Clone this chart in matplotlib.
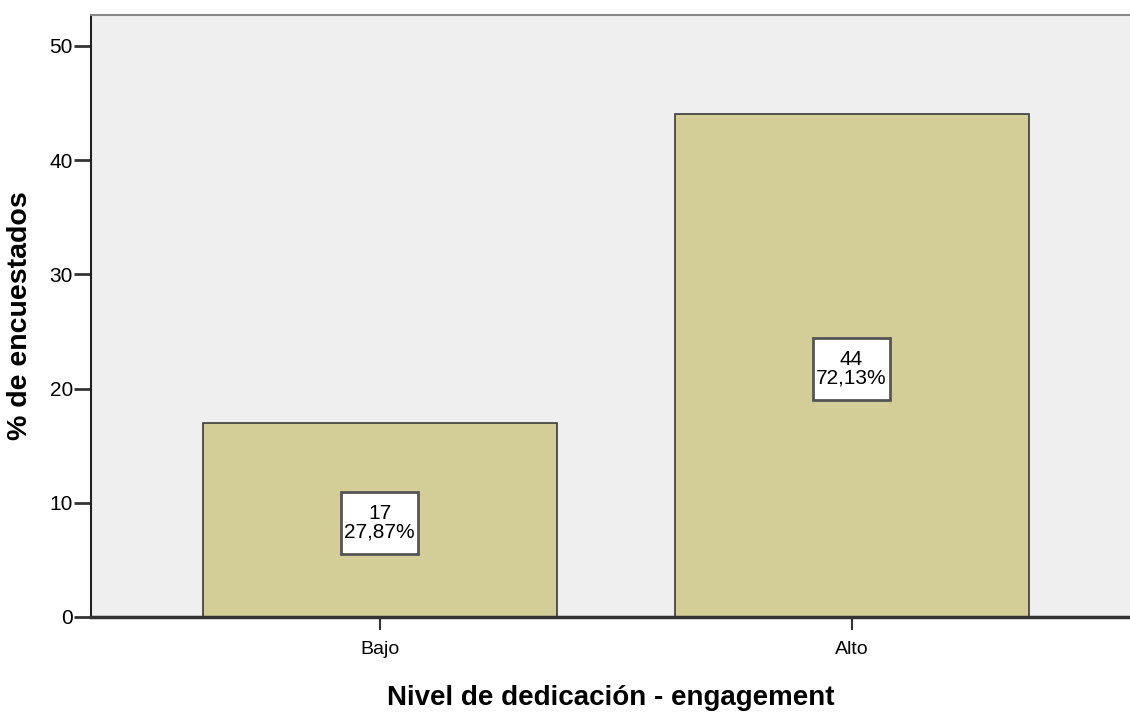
import matplotlib
matplotlib.use("Agg")
import matplotlib.pyplot as plt
import matplotlib.patches as patches
import matplotlib.transforms as mtransforms

categories = ["Bajo", "Alto"]
counts = [17, 44]
percent_labels = ["27,87%", "72,13%"]

plt.rcParams['font.family'] = ['Liberation Sans', 'DejaVu Sans']

fig = plt.figure(figsize=(11.3, 7.16), dpi=100)
ax = fig.add_axes([0.0805, 0.1383, 0.9195, 0.8407])
ax.set_facecolor('#efefef')

xs = list(range(len(categories)))
ax.bar(xs, counts, width=0.75, color='#d3ce97', edgecolor='#3a3a3a', linewidth=1.2, zorder=2)

# count + percent boxes in the middle of each bar (box size in inches)
for x, c, p in zip(xs, counts, percent_labels):
    tr = fig.dpi_scale_trans + mtransforms.ScaledTranslation(x, c / 2, ax.transData)
    box = patches.Rectangle((-0.385, -0.34), 0.77, 0.62, transform=tr,
                            facecolor='white', edgecolor='#555555', linewidth=2, zorder=3)
    ax.add_patch(box)
    ax.text(0, -0.03, f"{c}\n{p}", transform=tr, ha='center', va='center', fontsize=15,
            linespacing=0.95, zorder=4)

ax.set_xlim(-0.612, 1.59)
ax.set_ylim(0, 52.7)
ax.set_yticks([0, 10, 20, 30, 40, 50])
ax.set_xticks(xs)
ax.set_xticklabels(categories)
ax.tick_params(axis='y', direction='out', length=12, width=2, labelsize=15, pad=1, color='#333333')
ax.tick_params(axis='x', direction='out', length=9, width=1.5, labelsize=14, pad=8, color='#333333')

ax.spines['right'].set_visible(False)
ax.spines['top'].set_color('#888888')
ax.spines['top'].set_linewidth(1.5)
ax.spines['left'].set_color('#222222')
ax.spines['left'].set_linewidth(1.5)
ax.spines['bottom'].set_color('#333333')
ax.spines['bottom'].set_linewidth(2.5)

ax.set_ylabel('% de encuestados', fontsize=20.5, fontweight='bold', labelpad=12)
ax.set_xlabel('Nivel de dedicación - engagement', fontsize=20, fontweight='bold', labelpad=20)

fig.savefig('out.png', dpi=100)
